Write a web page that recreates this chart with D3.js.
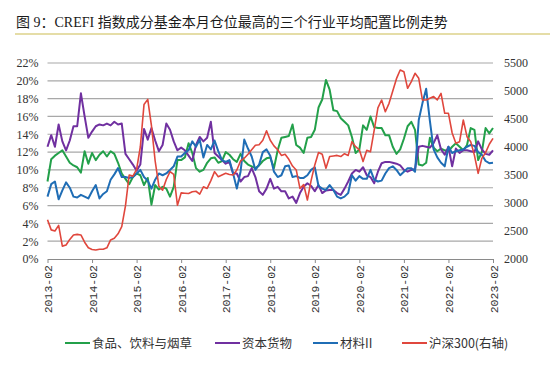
<!DOCTYPE html>
<html>
<head>
<meta charset="utf-8">
<script src="https://cdn.jsdelivr.net/npm/d3@7"></script>
<style>
  body { margin: 0; background: #fff; }
  svg { display: block; }
</style>
</head>
<body>
<svg id="chart" width="550" height="366"></svg>
<script>
// --- data (monthly, 2013-02 .. 2023-02) ---
const seriesNames = ["食品、饮料与烟草", "资本货物", "材料II", "沪深300(右轴)"];
const tickLabels = ["2013-02", "2014-02", "2015-02", "2016-02", "2017-02", "2018-02",
  "2019-02", "2020-02", "2021-02", "2022-02", "2023-02"];
const leftTicks = [0, 2, 4, 6, 8, 10, 12, 14, 16, 18, 20, 22];
const rightTicks = [2000, 2500, 3000, 3500, 4000, 4500, 5000, 5500];

// 食品、饮料与烟草 (%)
const food = [
  8.7, 11.2, 11.6, 11.9, 12.2, 11.5, 10.8, 10.5, 10.3, 9.7, 12.1, 10.7,
  11.9, 11.1, 11.7, 12.1, 11.5, 12.1, 11.8, 10.8, 9.6, 9.0, 8.4, 9.2,
  9.6, 9.4, 8.3, 9.1, 6.1, 8.3, 7.8, 8.1, 7.9, 7.0, 8.1, 11.1,
  11.1, 11.4, 13.0, 11.9, 10.2, 9.8, 10.0, 10.8, 11.3, 11.4, 10.8, 11.0,
  12.0, 11.7, 11.2, 10.9, 11.8, 11.0, 10.6, 10.4, 10.2, 10.5, 11.0, 11.3,
  11.4, 10.2, 12.2, 13.6, 13.7, 13.8, 15.1, 12.8, 12.5, 11.9, 13.6, 13.7,
  14.5, 17.0, 17.9, 20.1, 19.0, 16.7, 16.6, 15.8, 15.4, 15.0, 13.7, 11.9,
  12.3, 15.0, 14.5, 16.0, 14.8, 14.7, 14.7, 13.9, 13.9, 12.6, 11.8, 12.3,
  13.5, 14.9, 15.4, 14.5, 10.6, 10.5, 10.8, 13.6, 12.5, 12.1, 12.4, 12.2,
  12.1, 12.6, 13.0, 12.6, 12.2, 12.8, 14.7, 14.5, 11.1, 12.0, 14.7, 14.1,
  14.7
];

// 资本货物 (%)
const capital = [
  12.6, 13.9, 12.6, 15.1, 13.2, 12.2, 13.3, 14.9, 14.9, 18.6, 16.0, 13.6,
  14.3, 14.9, 15.1, 15.0, 15.2, 15.0, 15.4, 15.1, 15.2, 11.8, 11.2, 10.6,
  9.9, 10.6, 14.6, 13.4, 14.7, 13.3, 12.1, 12.8, 15.2, 14.5, 13.2, 12.2,
  12.5, 12.2, 11.6, 11.0, 12.8, 13.7, 13.2, 13.6, 15.4, 11.9, 11.5, 11.1,
  10.7, 10.9, 9.6, 9.6, 8.7, 9.2, 9.3, 10.2, 9.2, 7.6, 7.2, 7.9,
  9.0, 7.9, 8.1, 7.6, 7.6, 6.8, 7.0, 6.3, 7.4, 8.1, 8.5, 8.2,
  7.6, 8.3, 7.4, 7.7, 7.75, 7.75, 7.4, 7.2, 7.9, 8.7, 9.6, 10.0,
  9.8, 10.3, 9.4, 9.2, 8.5, 9.8, 10.75, 10.9, 10.9, 10.8, 10.7, 10.5,
  10.0, 9.8, 10.0, 10.1, 12.6, 12.7, 12.6, 12.5, 13.0, 13.9, 12.3, 11.7,
  12.6, 10.4, 12.4, 11.9, 12.2, 12.2, 12.1, 12.0, 13.2, 12.3, 11.8, 11.7,
  12.2
];

// 材料II (%)
const materials = [
  7.0, 8.4, 8.7, 6.7, 7.7, 8.6, 8.0, 7.0, 6.9, 7.2, 7.0, 6.8,
  7.6, 8.3, 6.8, 7.3, 7.6, 8.9, 9.5, 10.2, 9.2, 9.2, 9.1, 9.2,
  9.6, 10.0, 9.2, 8.8, 7.9, 8.9, 9.6, 9.4, 9.6, 10.0, 10.4, 11.5,
  11.5, 11.9, 12.2, 13.2, 12.6, 13.4, 11.4, 12.8, 12.3, 13.3, 12.1, 11.1,
  10.9, 11.1, 9.6, 7.9, 9.8, 13.4, 12.4, 11.5, 10.0, 10.6, 12.0, 12.3,
  11.6, 9.8, 9.2, 9.4, 10.4, 10.5, 9.2, 9.3, 9.1, 9.1, 9.4, 10.0,
  10.3, 8.2, 7.9, 7.75, 8.3, 7.75, 7.0, 6.8, 7.0, 7.4, 9.4, 8.8,
  9.3, 9.0, 9.0, 10.0, 8.9, 8.7, 8.8, 9.6, 10.2, 10.4, 10.0, 9.4,
  9.8, 10.2, 10.2, 9.8, 15.6, 17.5, 19.1, 15.5, 12.3, 11.4, 10.8, 10.4,
  12.6, 11.9, 12.1, 12.2, 12.3, 12.6, 12.8, 12.7, 12.0, 11.7, 11.0, 10.75,
  10.8
];

// 沪深300 (right axis, points)
const hs300 = [
  2700, 2520, 2500, 2600, 2230, 2250, 2350, 2430, 2440, 2430, 2300, 2200,
  2170, 2160, 2175, 2175, 2200, 2340, 2370, 2450, 2580, 2950, 3500, 3480,
  3600, 4000, 4760, 4850, 4380, 3750, 3300, 3230, 3420, 3560, 3510, 2960,
  3180, 3175, 3170, 3200, 3210, 3160, 3290, 3260, 3400, 3560, 3470, 3500,
  3530, 3510, 3500, 3590, 3750, 3800, 3870, 3950, 4030, 4040, 4120, 4290,
  4120, 4020, 3950, 3850, 3870, 3780, 3660, 3590, 3260, 3330, 3054, 3400,
  3680, 3900, 3870, 3620, 3830, 3840, 3850, 3830, 3880, 3850, 4095, 4006,
  3950, 3740, 3940, 3917, 4300, 4700, 4839, 4630, 4780, 5000, 5220, 5375,
  5345, 5048, 5167, 5316, 5227, 4839, 4840, 4870, 4900, 4840, 4958, 4602,
  4602, 4250, 4066, 4095, 4482, 4184, 4095, 3850, 3530, 3798, 3900, 4050,
  4155
];

// month categories 2013-02 .. 2023-02
const months = [];
for (let yr = 2013, mo = 2; months.length < food.length; mo++) {
  if (mo > 12) { mo = 1; yr++; }
  months.push(yr + "-" + String(mo).padStart(2, "0"));
}

// --- layout ---
const colors = ["#23a04a", "#7030a0", "#1f6db5", "#e0473d"];
const plot = { left: 47.5, right: 493, top: 63, bottom: 259 };
const svg = d3.select("#chart");

svg.append("rect").attr("width", 550).attr("height", 366).attr("fill", "#fff");

// title + underline
svg.append("text")
  .attr("x", 16)
  .attr("y", 27)
  .attr("font-family", "'Liberation Serif', 'Noto Sans CJK SC', serif")
  .attr("font-size", 14)
  .attr("fill", "#1a1a1a")
  .text("图 9：CREFI 指数成分基金本月仓位最高的三个行业平均配置比例走势");
svg.append("line")
  .attr("x1", 15).attr("x2", 550)
  .attr("y1", 34).attr("y2", 34)
  .attr("stroke", "#ddd28a")
  .attr("stroke-width", 1.6);

const x = d3.scalePoint().domain(months).range([plot.left, plot.right]);
const yL = d3.scaleLinear().domain([0, 22]).range([plot.bottom, plot.top]);
const yR = d3.scaleLinear().domain([2000, 5500]).range([plot.bottom, plot.top]);

// gridlines
svg.append("g")
  .selectAll("line")
  .data(leftTicks.filter(d => d > 0))
  .join("line")
  .attr("x1", plot.left).attr("x2", plot.right)
  .attr("y1", d => yL(d)).attr("y2", d => yL(d))
  .attr("stroke", "#a8a8a8")
  .attr("stroke-width", 1.2);

// left axis
const gl = svg.append("g")
  .attr("transform", `translate(${plot.left},0)`)
  .call(d3.axisLeft(yL).tickValues(leftTicks).tickSize(0).tickPadding(9)
    .tickFormat(d => d + "%"));
gl.select(".domain").remove();
gl.selectAll("text")
  .attr("font-family", "'Liberation Serif', serif")
  .attr("font-size", 12)
  .attr("fill", "#333");

// right axis
const gr = svg.append("g")
  .attr("transform", `translate(${plot.right},0)`)
  .call(d3.axisRight(yR).tickValues(rightTicks).tickSize(0).tickPadding(11)
    .tickFormat(d3.format("d")));
gr.select(".domain").remove();
gr.selectAll("text")
  .attr("font-family", "'Liberation Serif', serif")
  .attr("font-size", 12)
  .attr("fill", "#333");

// bottom axis
const gb = svg.append("g")
  .attr("transform", `translate(0,${plot.bottom})`)
  .call(d3.axisBottom(x).tickValues(tickLabels).tickSize(4).tickSizeOuter(0));
gb.select(".domain").attr("stroke", "#8a8a8a").attr("stroke-width", 1.2);
gb.selectAll(".tick line").attr("stroke", "#8a8a8a");
gb.selectAll("text")
  .attr("font-family", "'Liberation Mono', monospace")
  .attr("font-size", 11.5)
  .attr("fill", "#333")
  .attr("transform", "rotate(-90)")
  .attr("x", -6)
  .attr("y", 0)
  .attr("dy", "0.35em")
  .style("text-anchor", "end");

// lines
const pctLine = d3.line().x((d, i) => x(months[i])).y(d => yL(d));
const idxLine = d3.line().x((d, i) => x(months[i])).y(d => yR(d));

[food, capital, materials].forEach((s, k) => {
  svg.append("path")
    .datum(s)
    .attr("fill", "none")
    .attr("stroke", colors[k])
    .attr("stroke-width", 2)
    .attr("stroke-linejoin", "round")
    .attr("d", pctLine);
});
svg.append("path")
  .datum(hs300)
  .attr("fill", "none")
  .attr("stroke", colors[3])
  .attr("stroke-width", 1.6)
  .attr("stroke-linejoin", "round")
  .attr("d", idxLine);

// legend
const legendX = [65, 215, 313, 402];
const legend = svg.append("g").attr("transform", "translate(0,343)");
seriesNames.forEach((name, k) => {
  legend.append("line")
    .attr("x1", legendX[k]).attr("x2", legendX[k] + 25)
    .attr("y1", 0).attr("y2", 0)
    .attr("stroke", colors[k])
    .attr("stroke-width", 2);
  legend.append("text")
    .attr("x", legendX[k] + 27)
    .attr("y", 0)
    .attr("dy", "0.36em")
    .attr("font-family", "'Noto Sans CJK SC', sans-serif")
    .attr("font-size", 12.5)
    .attr("fill", "#333")
    .text(name);
});
</script>
</body>
</html>
